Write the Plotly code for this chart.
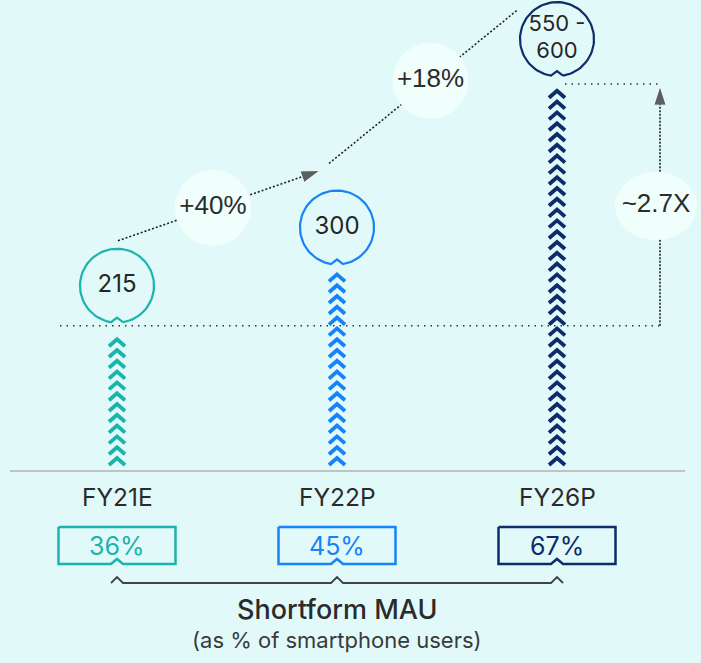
import math

import plotly.graph_objects as go

years = ["FY21E", "FY22P", "FY26P"]
mau_low = [215, 300, 550]
mau_high = [215, 300, 600]
mau_text = ["215", "300", "550 -<br>600"]
growth_text = ["+40%", "+18%"]
multiple_text = "~2.7X"
share_pct = [36, 45, 67]
colors = ["#1BB3AD", "#1783F6", "#0F2C6A"]

BG = "#E1FAF9"
BUBBLE = "#F0FEFC"
INK = "#2B2B2B"
FONT = "Inter"
ARIAL = "Liberation Sans"

W, H = 701, 663
BASE_PX = 470        # pixel row of the value 0
PX_PER_UNIT = 0.685  # vertical pixels per million users
CAT0_PX = 117        # pixel column of the first category
PX_PER_CAT = 220


def dy(px):
    return px / PX_PER_UNIT


def dx(px):
    return px / PX_PER_CAT


def yv(py):
    return (BASE_PX - py) / PX_PER_UNIT


mau_mid = [(lo + hi) / 2 for lo, hi in zip(mau_low, mau_high)]
R = 37  # bubble radius in px


def chevrons(i, top):
    xs, ys = [], []
    legs = dy(5)
    while legs + dy(7) <= top - dy(9):
        xs += [i - dx(8), i, i + dx(8), None]
        ys += [legs, legs + dy(7), legs, None]
        legs += dy(10.8)
    return xs, ys


def notched_circle(i, top):
    cy = top + dy(R)
    gap = math.asin(6 / R)
    xs, ys = [], []
    n = 90
    for k in range(n + 1):
        a = -math.pi / 2 + gap + (2 * math.pi - 2 * gap) * k / n
        xs.append(i + dx(R * math.cos(a)))
        ys.append(cy + dy(R * math.sin(a)))
    xs += [i, xs[0]]
    ys += [top + dy(5), ys[0]]
    return xs, ys, cy


def ellipse(cx, cy, rx, ry):
    xs, ys = [], []
    for k in range(61):
        a = 2 * math.pi * k / 60
        xs.append(cx + dx(rx * math.cos(a)))
        ys.append(cy + dy(ry * math.sin(a)))
    return xs, ys


def notched_box(i, top_py, bot_py, half_w):
    t, b = yv(top_py), yv(bot_py)
    xs = [i - dx(half_w), i + dx(half_w), i + dx(half_w), i + dx(6), i, i - dx(6), i - dx(half_w), i - dx(half_w)]
    ys = [t, t, b, b, b + dy(5), b, b, t]
    return xs, ys


fig = go.Figure()

# baseline
fig.add_shape(type="line", xref="x", yref="y", x0=dx(10 - CAT0_PX), x1=dx(685 - CAT0_PX),
              y0=yv(471), y1=yv(471), line=dict(color="#B2B2B2", width=1.5))

# dotted reference lines for the ~2.7X multiple
vx = 2 + dx(103)
low_y = mau_mid[0] - dy(3)
high_y = mau_mid[2] - dy(8)
fig.add_trace(go.Scatter(x=[-dx(57), vx], y=[low_y, low_y], mode="lines",
                         line=dict(color="#333", width=1.5, dash="1.5px,5px")))
fig.add_trace(go.Scatter(x=[2 + dx(8), vx], y=[high_y, high_y], mode="lines",
                         line=dict(color="#333", width=1.5, dash="1.5px,5px")))
fig.add_trace(go.Scatter(x=[vx, vx], y=[low_y, high_y - dy(2)], mode="lines+markers",
                         line=dict(color="#222", width=1.6, dash="2px,1.5px"),
                         marker=dict(symbol="arrow", size=[0, 20], color="#222", angleref="previous")))

# growth arrows between bubbles
growth_lines = [
    ((0 + dx(1), mau_mid[0] + dy(2 * R + 8)), (1 - dx(17), mau_mid[1] + dy(2 * R + 20)), 0.47),
    ((1 - dx(8), mau_mid[1] + dy(2 * R + 27)), (2 - dx(25), mau_mid[2] + dy(2 * R + 4)), 0.5),
]
for (x0, y0), (x1, y1), t in growth_lines:
    fig.add_trace(go.Scatter(x=[x0, x1], y=[y0, y1], mode="lines+markers",
                             line=dict(color="#222", width=1.6, dash="2px,2px"),
                             marker=dict(symbol="arrow", size=[0, 20], color="#222", angleref="previous")))

# bubbles behind the growth labels
label_pos = []
for (x0, y0), (x1, y1), t in growth_lines:
    label_pos.append((x0 + (x1 - x0) * t, y0 + (y1 - y0) * t))
for (lx, ly) in label_pos:
    ex, ey = ellipse(lx, ly, 38, 38)
    fig.add_trace(go.Scatter(x=ex, y=ey, mode="lines", fill="toself", fillcolor=BUBBLE,
                             line=dict(color=BUBBLE, width=0)))
mx, my = vx - dx(4), (low_y + high_y) / 2 - dy(1)
ex, ey = ellipse(mx, my, 41, 34)
fig.add_trace(go.Scatter(x=ex, y=ey, mode="lines", fill="toself", fillcolor=BUBBLE,
                         line=dict(color=BUBBLE, width=0)))

fig.add_trace(go.Scatter(x=[p[0] for p in label_pos] + [mx], y=[p[1] for p in label_pos] + [my],
                         mode="text", text=growth_text + [multiple_text], textposition="middle center",
                         textfont=dict(family=ARIAL, size=26, color=INK)))

# columns of chevrons + value bubbles
for i, (top, c) in enumerate(zip(mau_mid, colors)):
    cx, cy = chevrons(i, top)
    fig.add_trace(go.Scatter(x=cx, y=cy, mode="lines",
                             line=dict(color=c, width=3.8)))
    bx, by, ccy = notched_circle(i, top)
    fig.add_trace(go.Scatter(x=bx, y=by, mode="lines", line=dict(color=c, width=2.2)))
    lines = mau_text[i].split("<br>")
    size = 24 if len(lines) == 1 else 22
    offs = [(len(lines) - 1) / 2 - k for k in range(len(lines))]
    fig.add_trace(go.Scatter(x=[i] * len(lines), y=[ccy + dy(27 * o) for o in offs],
                             mode="text", text=lines, textposition="middle center",
                             textfont=dict(family=FONT, size=size, color="#262626")))

# category labels
for i, yr in enumerate(years):
    fig.add_annotation(x=i, y=yv(497), text=yr, showarrow=False,
                       font=dict(family=FONT, size=24.5, color=INK))

# share-of-smartphone-users boxes
for i, (p, c) in enumerate(zip(share_pct, colors)):
    bx, by = notched_box(i, 527, 564, 58.5)
    fig.add_trace(go.Scatter(x=bx, y=by, mode="lines", line=dict(color=c, width=2.5)))
    fig.add_annotation(x=i, y=yv(546), text=f"{p}%", showarrow=False,
                       font=dict(family=FONT, size=25, color=c))

# brace joining the boxes
brace_y = yv(583)
bx, by = [], []
for i in range(len(years)):
    bx += [i - dx(6), i, i + dx(6)]
    by += [brace_y, brace_y + dy(6), brace_y]
fig.add_trace(go.Scatter(x=bx, y=by, mode="lines", line=dict(color="#444", width=1.8)))

fig.add_annotation(x=1, y=yv(609), text="Shortform MAU", showarrow=False,
                   font=dict(family=FONT, size=27, color=INK, weight=500))
fig.add_annotation(x=1, y=yv(640), text="(as % of smartphone users)", showarrow=False,
                   font=dict(family=FONT, size=22, color="#3A3A3A"))

fig.update_traces(hoverinfo="skip", showlegend=False, cliponaxis=False, selector=dict(type="scatter"))
fig.update_layout(
    width=W,
    height=H,
    margin=dict(l=0, r=0, t=0, b=0),
    paper_bgcolor=BG,
    plot_bgcolor=BG,
    showlegend=False,
    xaxis=dict(range=[dx(-CAT0_PX), dx(W - CAT0_PX)], visible=False, fixedrange=True),
    yaxis=dict(range=[yv(H), yv(0)], visible=False, fixedrange=True),
)

fig.write_html("out.html", config={"displayModeBar": False},
               post_script="document.body.style.margin = '0';")
